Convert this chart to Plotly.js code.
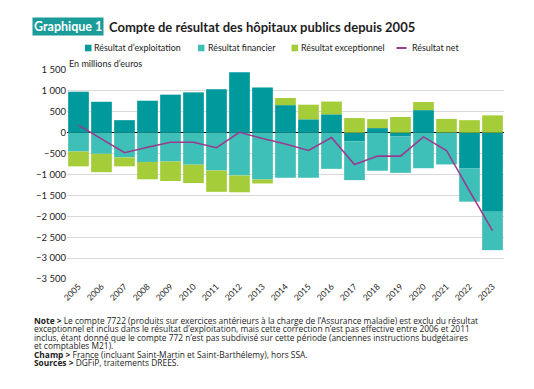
<!DOCTYPE html>
<html>
<head>
<meta charset="utf-8">
<script src="https://cdn.plot.ly/plotly-3.0.1.min.js"></script>
<style>html,body{margin:0;padding:0;background:#fff;}#chart{width:534px;height:389px;}</style>
</head>
<body>
<div id="chart"></div>
<script>
const years = ["2005","2006","2007","2008","2009","2010","2011","2012","2013","2014","2015","2016","2017","2018","2019","2020","2021","2022","2023"];
const exploitation = [980, 740, 300, 765, 910, 965, 1040, 1445, 1080, 660, 320, 440, -205, 110, -90, 540, 5, -850, -1890];
const financier = [-450, -505, -590, -700, -690, -765, -905, -1025, -1120, -1080, -1080, -865, -930, -910, -870, -850, -760, -800, -920];
const exceptionnel = [-355, -440, -215, -415, -465, -440, -510, -400, -95, 170, 350, 305, 350, 215, 375, 195, 325, 300, 415];
const net = [180, -160, -480, -350, -228, -228, -360, 10, -140, -270, -425, -115, -760, -560, -560, -100, -425, -1390, -2345];
const seriesNames = ["Résultat d’exploitation", "Résultat financier", "Résultat exceptionnel", "Résultat net"];
const yTicks = [1500, 1000, 500, 0, -500, -1000, -1500, -2000, -2500, -3000, -3500];

const FONT = "Lato, 'Open Sans', sans-serif";
const NOTEFONT = "'Open Sans', Lato, sans-serif";
const colors = ["#00999C", "#3EBFB8", "#A5CD39", "#9B3A8E"];

const traces = [
  {type:"bar", name:seriesNames[0], x:years, y:exploitation, marker:{color:colors[0]}},
  {type:"bar", name:seriesNames[1], x:years, y:financier, marker:{color:colors[1]}},
  {type:"bar", name:seriesNames[2], x:years, y:exceptionnel, marker:{color:colors[2]}},
  {type:"scatter", mode:"lines", name:seriesNames[3], x:years, y:net, line:{color:colors[3], width:1.6}}
];

const noteLines = [
  "<b>Note ></b> Le compte 7722 (produits sur exercices antérieurs à la charge de l’Assurance maladie) est exclu du résultat",
  "exceptionnel et inclus dans le résultat d’exploitation, mais cette correction n’est pas effective entre 2006 et 2011",
  "inclus, étant donné que le compte 772 n’est pas subdivisé sur cette période (anciennes instructions budgétaires",
  "et comptables M21).",
  "<b>Champ ></b> France (incluant Saint-Martin et Saint-Barthélemy), hors SSA.",
  "<b>Sources ></b> DGFiP, traitements DREES."
];

// pixel helpers (plot area: x 67..504, y 70..279)
const px = x => (x - 67) / 437;
const py = y => (279 - y) / 209;

const annotations = [
  {xref:"paper", yref:"paper", x:0, y:py(63.7), xanchor:"left", yanchor:"middle",
   text:"En millions d’euros", showarrow:false, font:{family:FONT, size:9, color:"#222"}},
  {xref:"paper", yref:"paper", x:px(32), y:py(27), xanchor:"left", yanchor:"middle",
   text:"Graphique 1", showarrow:false, bgcolor:"#1A9C9A", borderpad:1,
   font:{family:FONT, size:12.5, color:"#fff", weight:700}},
  {xref:"paper", yref:"paper", x:px(107), y:py(27), xanchor:"left", yanchor:"middle",
   text:"<b>Compte de résultat des hôpitaux publics depuis 2005</b>", showarrow:false,
   font:{family:FONT, size:13, color:"#1e1e1e"}}
];
noteLines.forEach((t,i)=>{
  annotations.push({xref:"paper", yref:"paper", x:px(32), y:py(320.5 + i*8.4),
    xanchor:"left", yanchor:"middle", text:t, showarrow:false, align:"left",
    font:{family:NOTEFONT, size:8.4, color:"#222"}});
});

// legend (drawn as key shapes + labels)
const legendY = 48;
const legendSym = [85, 198, 291.5, 396.5];
const legendText = [92, 205.5, 298.5, 410];
const shapes = [];
seriesNames.forEach((n,i)=>{
  if (i < 3) {
    shapes.push({type:"rect", xref:"paper", yref:"paper", x0:px(legendSym[i]), x1:px(legendSym[i]+6.5),
      y0:py(legendY+3.3), y1:py(legendY-3.3), fillcolor:colors[i], line:{width:0}});
  } else {
    shapes.push({type:"line", xref:"paper", yref:"paper", x0:px(legendSym[i]), x1:px(legendSym[i]+10),
      y0:py(legendY), y1:py(legendY), line:{color:colors[i], width:2}});
  }
  annotations.push({xref:"paper", yref:"paper", x:px(legendText[i]), y:py(legendY), xanchor:"left", yanchor:"middle",
    text:n, showarrow:false, font:{family:FONT, size:8.9, color:"#222"}});
});

const layout = {
  width:534, height:389,
  margin:{l:67, r:30, t:70, b:110},
  paper_bgcolor:"#fff", plot_bgcolor:"#fff",
  font:{family:FONT, color:"#222"},
  barmode:"relative", bargap:0.1,
  separators:", ",
  showlegend:false,
  xaxis:{type:"category", tickangle:-45, tickfont:{family:FONT, size:8.5, color:"#222"},
    showgrid:false, zeroline:false, showline:false, ticks:"", ticklen:0},
  yaxis:{range:[-3500,1500], tickvals:yTicks, tickformat:",d", showgrid:true, gridcolor:"#D9D9D9", gridwidth:1,
    zeroline:true, zerolinecolor:"#000", zerolinewidth:1, showline:false, ticks:"",
    tickfont:{family:FONT, size:9.5, color:"#222"}},
  shapes:shapes,
  annotations:annotations
};

Plotly.newPlot("chart", traces, layout, {staticPlot:true, displayModeBar:false});
</script>
</body>
</html>
